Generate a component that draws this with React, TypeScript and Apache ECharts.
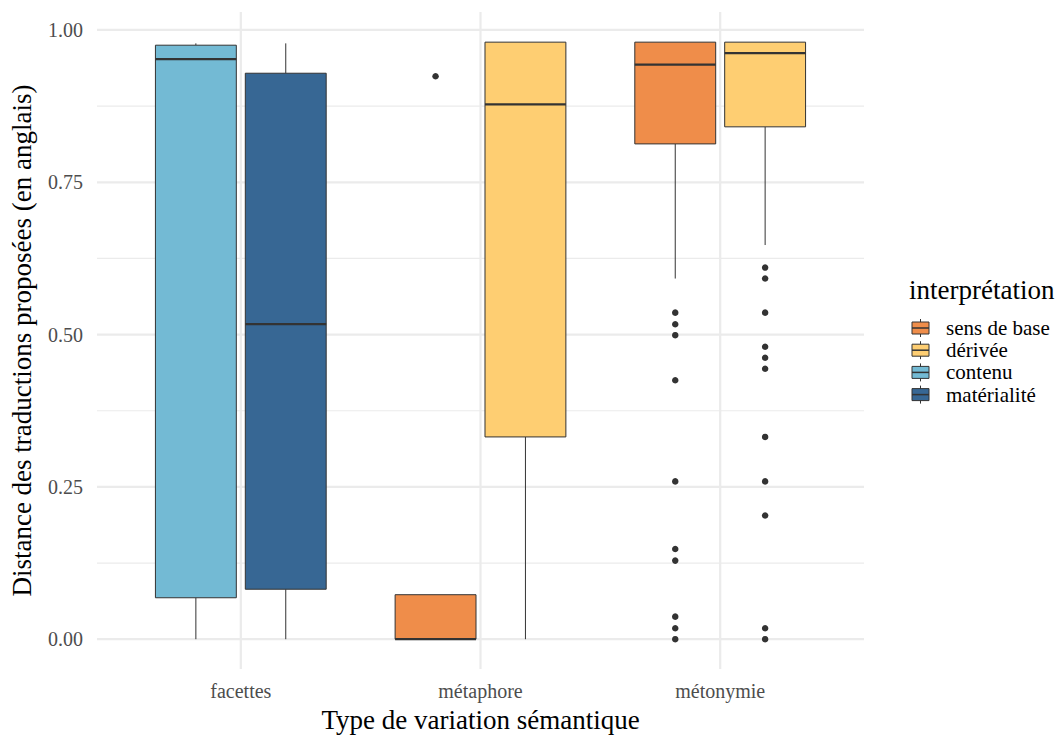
import React, { useEffect, useRef } from "react";
import * as echarts from "echarts";

const categories = ["facettes", "métaphore", "métonymie"];
const groups = ["sens de base", "dérivée", "contenu", "matérialité"];
const groupColors = ["#EF8D4A", "#FECE72", "#73BAD4", "#376794"];

// one entry per drawn box
const boxCategory = [0, 0, 1, 1, 2, 2];
const boxGroup = [2, 3, 0, 1, 0, 1];
const boxSlot = [0, 1, 0, 1, 0, 1];
const lowerWhisker = [0, 0, 0, 0, 0.592, 0.647];
const q1 = [0.068, 0.082, 0, 0.332, 0.813, 0.841];
const median = [0.952, 0.517, 0, 0.878, 0.943, 0.962];
const q3 = [0.975, 0.929, 0.073, 0.98, 0.98, 0.98];
const upperWhisker = [0.978, 0.978, 0.073, 0.98, 0.98, 0.98];
const outliers: number[][] = [
  [],
  [],
  [0.924],
  [],
  [0.536, 0.517, 0.499, 0.425, 0.259, 0.148, 0.129, 0.037, 0.018, 0],
  [0.61, 0.592, 0.536, 0.48, 0.462, 0.444, 0.332, 0.259, 0.203, 0.018, 0],
];

const yTicks = [0, 0.25, 0.5, 0.75, 1];
const yMinorTicks = [0.125, 0.375, 0.625, 0.875];

const FONT = "Liberation Serif";
const DODGE = 0.75;
const SLOTS = 2;

export default function App() {
  const ref = useRef<HTMLDivElement>(null);
  useEffect(() => {
    if (!ref.current) return;
    document.body.style.margin = "0";
    const chart = echarts.init(ref.current, undefined, { renderer: "svg" });
    const slotW = DODGE / SLOTS;
    const halfW = (slotW * 0.9) / 2;
    const boxData = boxCategory.map((c, i) => [
      c + 1 + (boxSlot[i] - (SLOTS - 1) / 2) * slotW,
      lowerWhisker[i],
      q1[i],
      median[i],
      q3[i],
      upperWhisker[i],
      boxGroup[i],
    ]);
    const outlierData: number[][] = [];
    outliers.forEach((arr, i) => {
      arr.forEach((v) => outlierData.push([boxData[i][0] as number, v]));
    });
    const hGrid = [
      ...yTicks.map((v) => [v, 1]),
      ...yMinorTicks.map((v) => [v, 0]),
    ];
    const vGrid = categories.map((_, i) => [i + 1]);

    const legendTop = 328;
    const legendStep = 22.2;
    const legendGraphics: any[] = [
      {
        type: "text",
        left: 909,
        top: 276,
        style: { text: "interprétation", font: `27px "${FONT}"`, fill: "#000" },
      },
    ];
    groups.forEach((g, i) => {
      const cy = legendTop + i * legendStep;
      legendGraphics.push(
        { type: "line", shape: { x1: 920.5, y1: cy - 9, x2: 920.5, y2: cy + 9 }, style: { stroke: "#333", lineWidth: 1 } },
        { type: "rect", shape: { x: 912, y: cy - 6, width: 17, height: 12 }, style: { fill: groupColors[i], stroke: "#333", lineWidth: 1 } },
        { type: "line", shape: { x1: 912, y1: cy, x2: 929, y2: cy }, style: { stroke: "#333", lineWidth: 1.5 } },
        {
          type: "text",
          x: 946,
          y: cy,
          style: { text: g, font: `21px "${FONT}"`, fill: "#000", verticalAlign: "middle" },
        }
      );
    });

    chart.setOption({
      animation: false,
      backgroundColor: "#fff",
      textStyle: { fontFamily: FONT },
      grid: { left: 97, right: 199, top: 12, bottom: 68 },
      xAxis: {
        type: "value",
        min: 0.4,
        max: 3.6,
        axisLine: { show: false },
        axisTick: { show: false },
        splitLine: { show: false },
        axisLabel: {
          customValues: [1, 2, 3],
          formatter: (v: number) => categories[Math.round(v) - 1] ?? "",
          fontSize: 20,
          color: "#4D4D4D",
          margin: 12,
          fontFamily: FONT,
        },
        name: "Type de variation sémantique",
        nameLocation: "middle",
        nameGap: 35,
        nameTextStyle: { fontSize: 27, color: "#000", fontFamily: FONT },
      },
      yAxis: {
        type: "value",
        min: -0.0491,
        max: 1.0295,
        axisLine: { show: false },
        axisTick: { show: false },
        splitLine: { show: false },
        axisLabel: {
          customValues: yTicks,
          formatter: (v: number) => v.toFixed(2),
          fontSize: 20,
          color: "#4D4D4D",
          margin: 14,
          fontFamily: FONT,
        },
        name: "Distance des traductions proposées (en anglais)",
        nameLocation: "middle",
        nameRotate: 90,
        nameGap: 62,
        nameTextStyle: { fontSize: 27, color: "#000", fontFamily: FONT },
      },
      graphic: legendGraphics,
      series: [
        {
          type: "custom",
          z: 0,
          silent: true,
          data: hGrid,
          renderItem: (params: any, api: any) => {
            const v = api.value(0);
            const p1 = api.coord([0.4, v]);
            const p2 = api.coord([3.6, v]);
            return {
              type: "line",
              shape: { x1: p1[0], y1: p1[1], x2: p2[0], y2: p2[1] },
              style: { stroke: "#EBEBEB", lineWidth: api.value(1) ? 2.2 : 1.2 },
            };
          },
        },
        {
          type: "custom",
          z: 0,
          silent: true,
          data: vGrid,
          renderItem: (params: any, api: any) => {
            const v = api.value(0);
            const p1 = api.coord([v, -0.0491]);
            const p2 = api.coord([v, 1.0295]);
            return {
              type: "line",
              shape: { x1: p1[0], y1: p1[1], x2: p2[0], y2: p2[1] },
              style: { stroke: "#EBEBEB", lineWidth: 2.2 },
            };
          },
        },
        {
          type: "custom",
          z: 2,
          data: boxData,
          renderItem: (params: any, api: any) => {
            const x = api.value(0);
            const lw = api.value(1);
            const b1 = api.value(2);
            const md = api.value(3);
            const b3 = api.value(4);
            const uw = api.value(5);
            const color = groupColors[api.value(6)];
            const tl = api.coord([x - halfW, b3]);
            const br = api.coord([x + halfW, b1]);
            const wTop = api.coord([x, uw]);
            const wQ3 = api.coord([x, b3]);
            const wQ1 = api.coord([x, b1]);
            const wBot = api.coord([x, lw]);
            const mL = api.coord([x - halfW, md]);
            const mR = api.coord([x + halfW, md]);
            return {
              type: "group",
              children: [
                { type: "line", shape: { x1: wTop[0], y1: wTop[1], x2: wQ3[0], y2: wQ3[1] }, style: { stroke: "#333", lineWidth: 1 } },
                { type: "line", shape: { x1: wQ1[0], y1: wQ1[1], x2: wBot[0], y2: wBot[1] }, style: { stroke: "#333", lineWidth: 1 } },
                {
                  type: "rect",
                  shape: { x: tl[0], y: tl[1], width: br[0] - tl[0], height: br[1] - tl[1] },
                  style: { fill: color, stroke: "#333", lineWidth: 1 },
                },
                { type: "line", shape: { x1: mL[0], y1: mL[1], x2: mR[0], y2: mR[1] }, style: { stroke: "#333", lineWidth: 2.2 } },
              ],
            };
          },
        },
        {
          type: "scatter",
          z: 3,
          data: outlierData,
          symbol: "circle",
          symbolSize: 6.5,
          itemStyle: { color: "#333", opacity: 1 },
          silent: true,
        },
      ],
    });
    return () => chart.dispose();
  }, []);
  return <div ref={ref} style={{ width: 1063, height: 738 }} />;
}
